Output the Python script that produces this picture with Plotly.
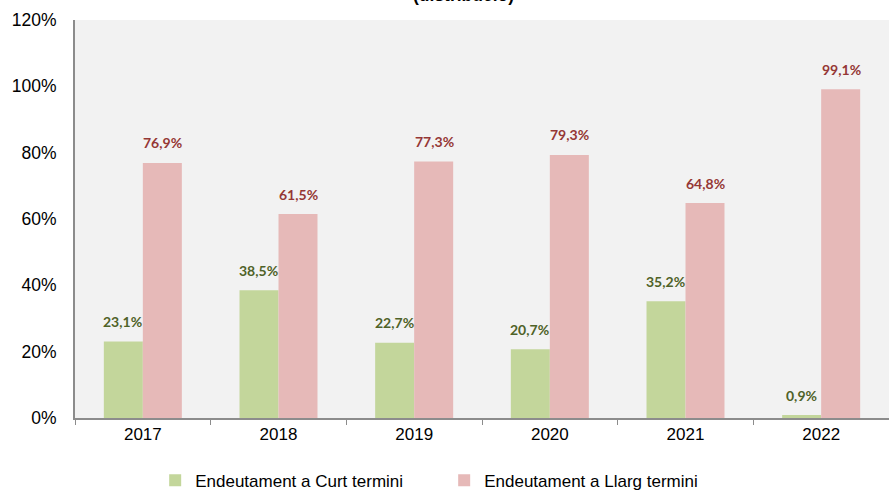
import plotly.graph_objects as go

years = ["2017", "2018", "2019", "2020", "2021", "2022"]
curt = [23.1, 38.5, 22.7, 20.7, 35.2, 0.9]
llarg = [76.9, 61.5, 77.3, 79.3, 64.8, 99.1]
names = ["Endeutament a Curt termini", "Endeutament a Llarg termini"]
y_ticks = [0, 20, 40, 60, 80, 100, 120]

def fmt(v):
    return f"{v:.1f}".replace(".", ",") + "%"

fig = go.Figure()
fig.add_trace(go.Bar(x=years, y=curt, name=names[0], marker=dict(color="#c3d69b", line=dict(width=0))))
fig.add_trace(go.Bar(x=years, y=llarg, name=names[1], marker=dict(color="#e6b9b8", line=dict(width=0))))

ann = []
for i, v in enumerate(curt):
    ann.append(dict(x=i, y=v, xref="x", yref="y", text="<b>" + fmt(v) + "</b>", showarrow=False,
                    xshift=-20, yshift=20, font=dict(family="Lato", size=14, color="#4f6228")))
for i, v in enumerate(llarg):
    ann.append(dict(x=i, y=v, xref="x", yref="y", text="<b>" + fmt(v) + "</b>", showarrow=False,
                    xshift=20, yshift=20, font=dict(family="Lato", size=14, color="#953735")))
ann.append(dict(x=0.4767, y=1, xref="paper", yref="paper", yanchor="bottom", yshift=13,
                text="<b>(distribució)</b>", showarrow=False,
                font=dict(family="Liberation Sans", size=17.5, color="#000000")))

fig.update_layout(
    width=889, height=491,
    margin=dict(l=75, r=0, t=20, b=73, autoexpand=False),
    paper_bgcolor="white", plot_bgcolor="#f2f2f2",
    barmode="group", bargap=0.425, bargroupgap=0,
    font=dict(family="Liberation Sans", size=17.5, color="#000000"),
    annotations=ann,
    legend=dict(orientation="h", x=0.0985, xanchor="left", y=-0.112, yanchor="top",
                font=dict(family="Liberation Sans", size=17, color="#000000"),
                itemwidth=30, traceorder="normal", entrywidth=244),
    showlegend=True,
)
fig.update_xaxes(type="category", range=[-0.5, 5.5], showline=True, linecolor="#8c8c8c", linewidth=2,
                 ticks="outside", tickson="boundaries", ticklen=5, tickcolor="#8c8c8c", tickwidth=1,
                 showgrid=False, tickangle=0, automargin=False,
                 tickfont=dict(family="Liberation Sans", size=17))
fig.update_yaxes(range=[0, 120], tickvals=y_ticks, ticktext=[f"{t}%" for t in y_ticks],
                 showline=True, linecolor="#8c8c8c", linewidth=2, ticks="", showgrid=False, zeroline=False,
                 automargin=False, tickfont=dict(family="Liberation Sans", size=17.5), ticklabelstandoff=13)

fig.write_html("out.html", config={"displayModeBar": False},
               post_script="document.body.style.margin='0';document.body.style.padding='0';")
